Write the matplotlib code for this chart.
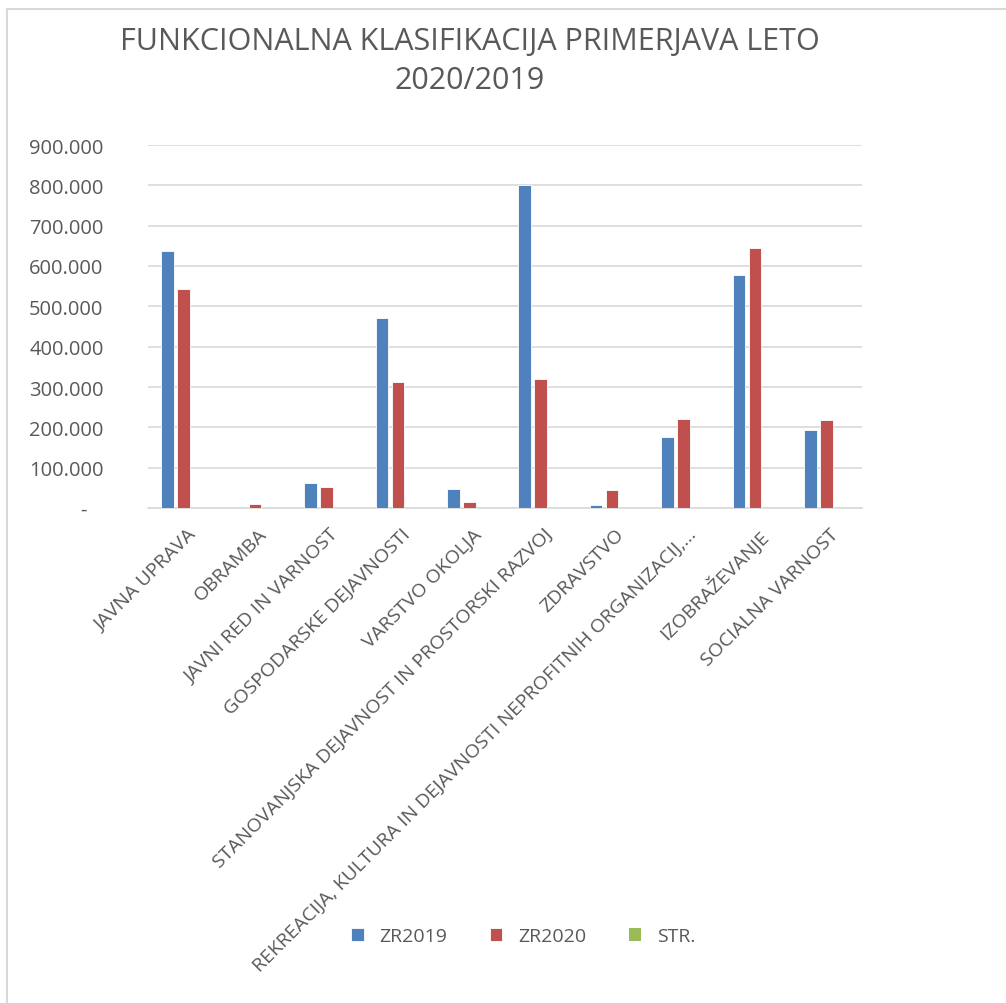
import numpy as np
import matplotlib.pyplot as plt
from matplotlib.lines import Line2D
from matplotlib.ticker import FuncFormatter
from matplotlib.transforms import ScaledTranslation

categories = ['JAVNA UPRAVA', 'OBRAMBA', 'JAVNI RED IN VARNOST', 'GOSPODARSKE DEJAVNOSTI',
              'VARSTVO OKOLJA', 'STANOVANJSKA DEJAVNOST IN PROSTORSKI RAZVOJ', 'ZDRAVSTVO',
              'REKREACIJA, KULTURA IN DEJAVNOSTI NEPROFITNIH ORGANIZACIJ,…',
              'IZOBRAŽEVANJE', 'SOCIALNA VARNOST']
zr2019 = [637, 0, 62, 472, 48, 800, 7, 176, 577, 193]
zr2020 = [544, 10, 52, 313, 16, 321, 44, 221, 645, 217]
stran = [0, 0, 0, 0, 0, 0, 0, 0, 0, 0]
yticks = [0, 100, 200, 300, 400, 500, 600, 700, 800, 900]

txt = '#595959'
grid = '#d9d9d9'
plt.rcParams['font.family'] = ['Open Sans', 'DejaVu Sans']

fig = plt.figure(figsize=(10.06, 10.04), dpi=100)
ax = fig.add_axes([148 / 1006, 1 - 509 / 1004, (862 - 148) / 1006, (509 - 146) / 1004])

x = np.arange(len(categories))
w = 0.175
step = 0.224
ax.bar(x - step, zr2019, w, color='#4F81BD', edgecolor='white', linewidth=0.6, label='ZR2019', zorder=3)
ax.bar(x, zr2020, w, color='#C0504D', edgecolor='white', linewidth=0.6, label='ZR2020', zorder=3)
ax.bar(x + step, stran, w, color='#9BBB59', linewidth=0, label='STR.', zorder=3)

ax.set_xlim(-0.5, len(categories) - 0.5)
ax.set_ylim(0, 900)
ax.set_yticks(yticks)
ax.yaxis.set_major_formatter(FuncFormatter(lambda v, p: '-   ' if v == 0 else f'{int(v)}.000'))
ax.grid(axis='y', color=grid, linewidth=1.2, zorder=0)
for s in ['top', 'right', 'left']:
    ax.spines[s].set_visible(False)
ax.spines['bottom'].set_color(grid)
ax.spines['bottom'].set_linewidth(1.2)
ax.tick_params(axis='y', length=0, pad=32, labelsize=14.5, labelcolor=txt)
ax.tick_params(axis='x', length=0, pad=12, labelsize=14, labelcolor=txt)
ax.set_xticks(x)
ax.set_xticklabels(categories, rotation=45, ha='right', va='top', rotation_mode='anchor')
shift = ScaledTranslation(3 / 100, 0, fig.dpi_scale_trans)
for lab in ax.get_xticklabels():
    lab.set_transform(lab.get_transform() + shift)

fig.text(0.467, 0.973, 'FUNKCIONALNA KLASIFIKACIJA PRIMERJAVA LETO\n2020/2019',
         ha='center', va='top', fontsize=22, color=txt, linespacing=1.4)

handles, labels = ax.get_legend_handles_labels()
leg = fig.legend(handles, labels, loc='center', bbox_to_anchor=(0.52, 1 - 937 / 1004), ncol=3,
                 frameon=False, fontsize=14, handlelength=0.65, handleheight=0.65,
                 columnspacing=2.2, handletextpad=0.8)
for t in leg.get_texts():
    t.set_color(txt)

# chart-area border (top and left edges only visible)
fig.add_artist(Line2D([7 / 1006, 1], [1 - 10 / 1004, 1 - 10 / 1004], color=grid, linewidth=1.5,
                      transform=fig.transFigure))
fig.add_artist(Line2D([7 / 1006, 7 / 1006], [0, 1 - 10 / 1004], color=grid, linewidth=1.5,
                      transform=fig.transFigure))

plt.savefig('out.png', dpi=100)
